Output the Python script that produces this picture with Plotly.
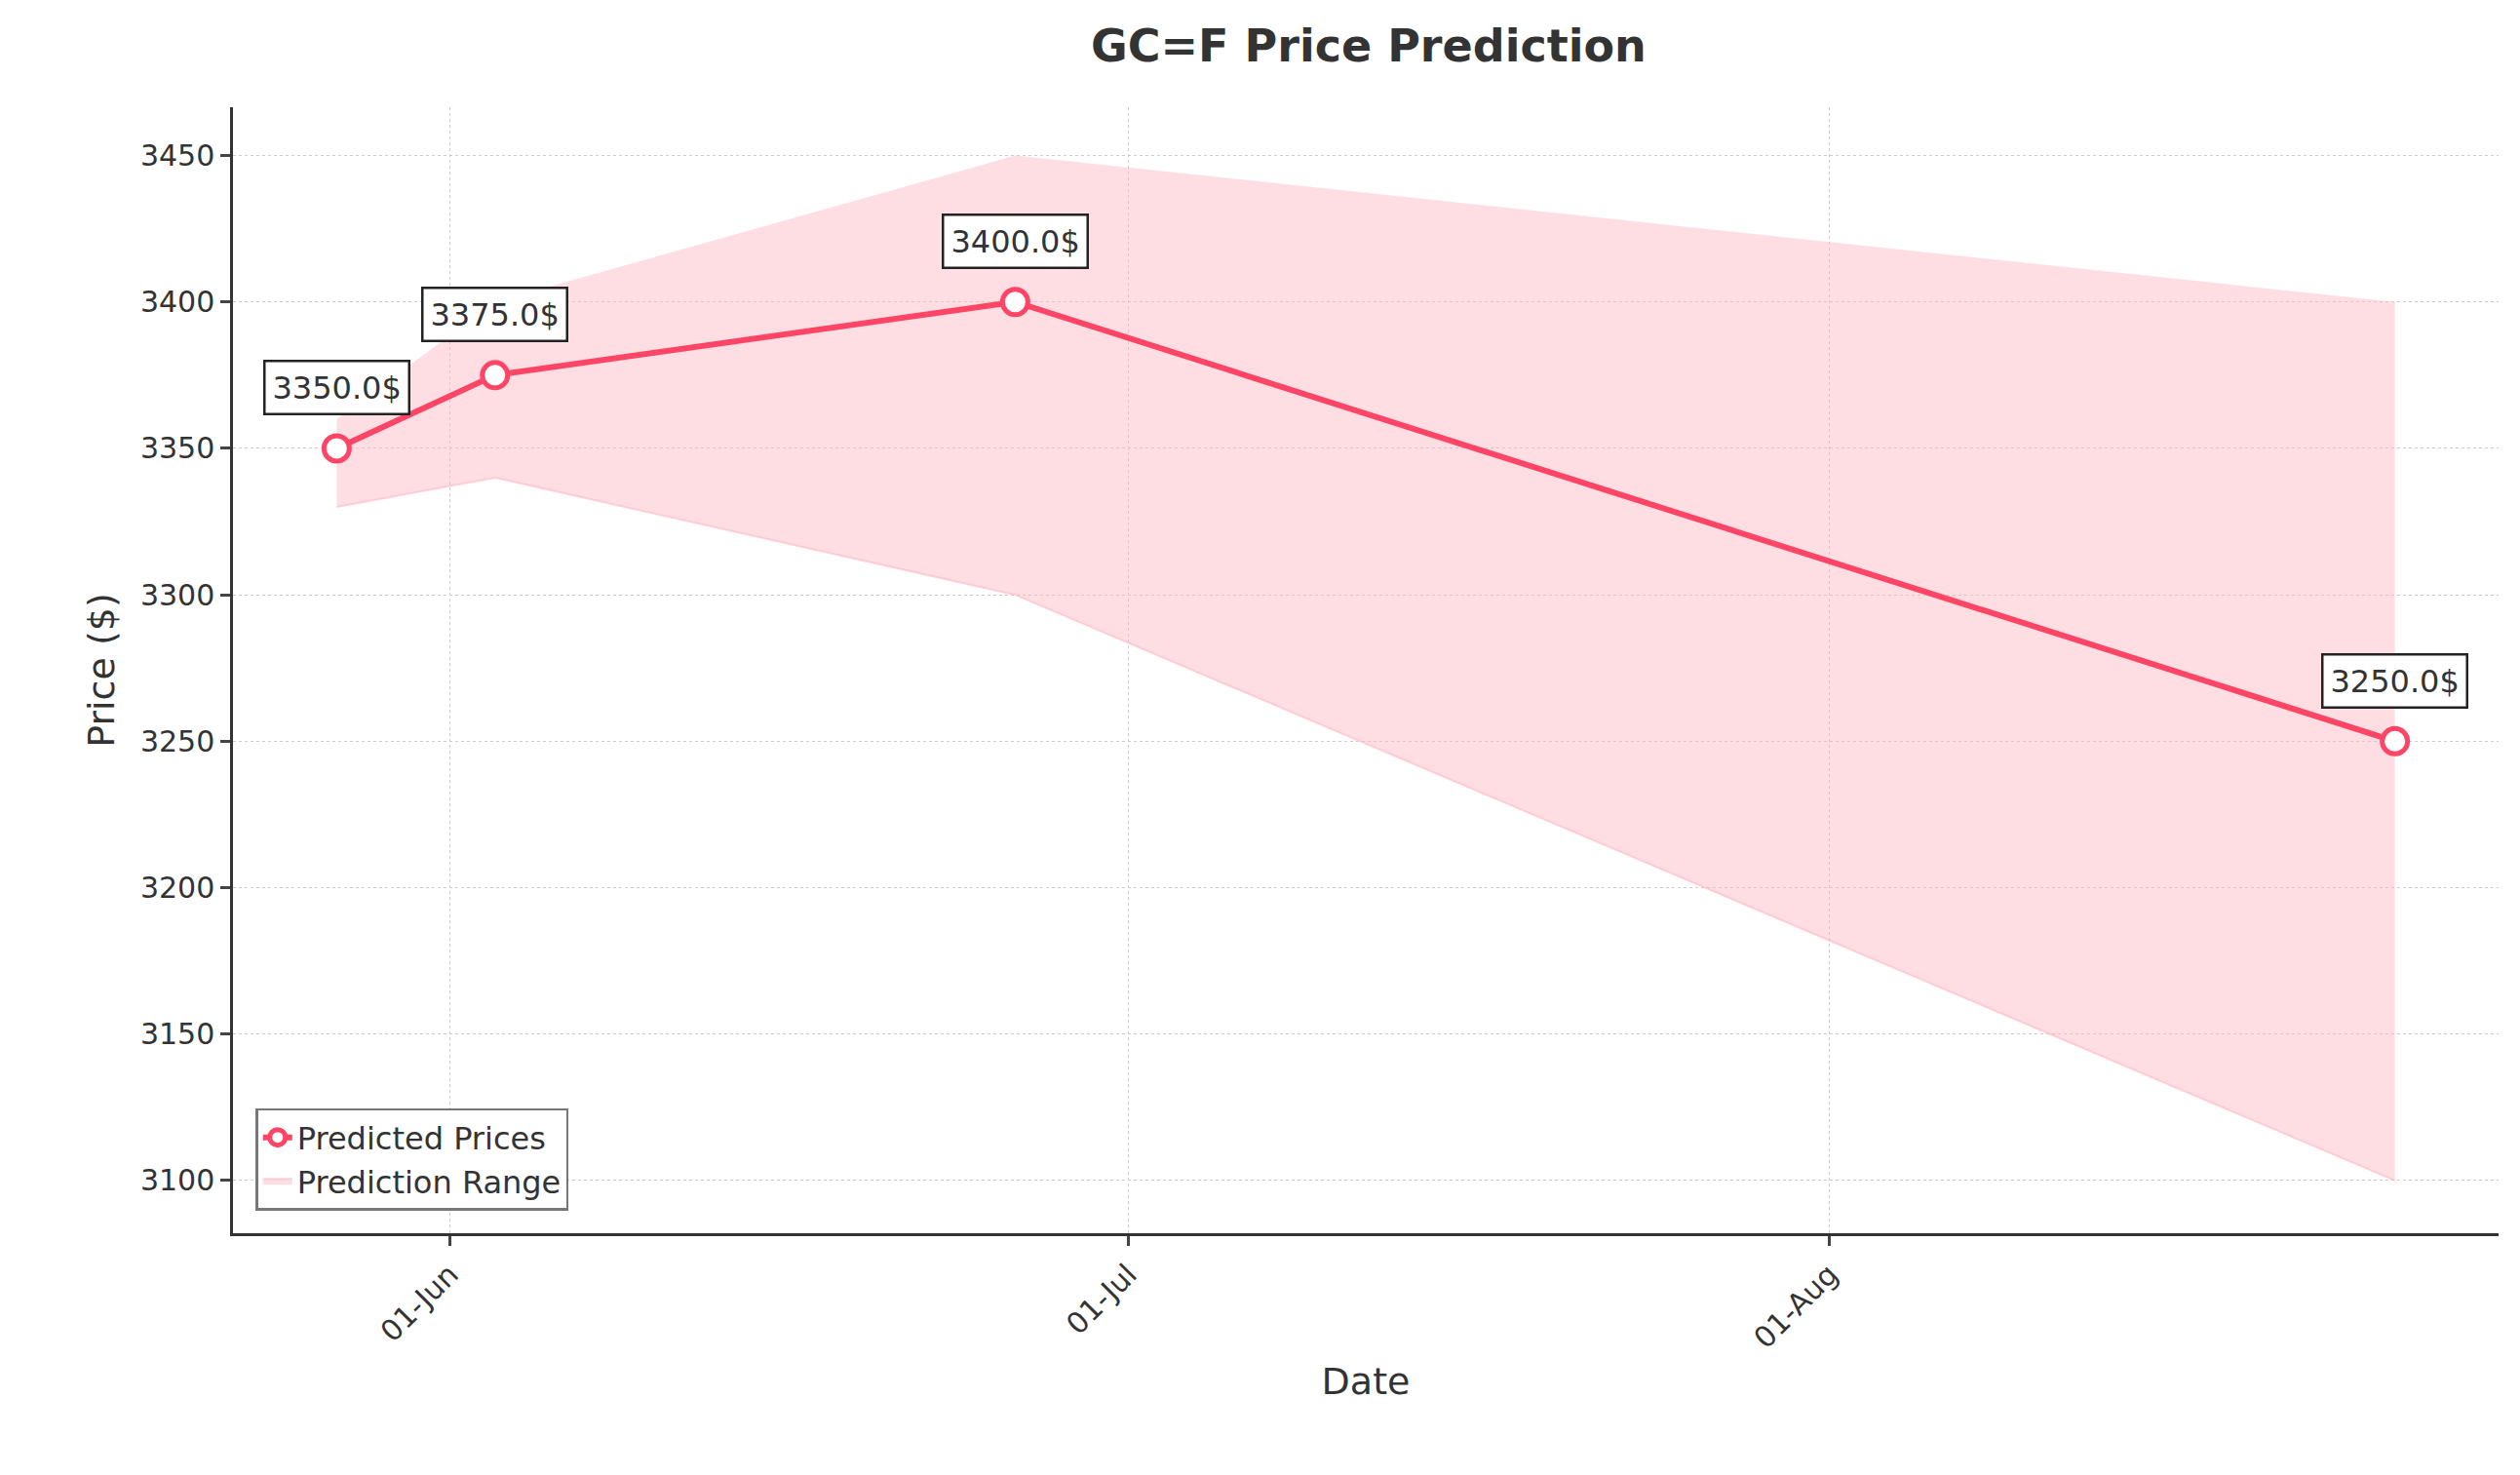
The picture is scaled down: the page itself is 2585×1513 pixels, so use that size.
import plotly.graph_objects as go

dates = ["2025-05-27", "2025-06-03", "2025-06-26", "2025-08-26"]
prices = [3350.0, 3375.0, 3400.0, 3250.0]
upper = [3360, 3400, 3450, 3400]
lower = [3330, 3340, 3300, 3100]
tick_vals = ["2025-06-01", "2025-07-01", "2025-08-01"]
tick_text = ["01-Jun", "01-Jul", "01-Aug"]

red = "#FF4566"
fig = go.Figure()
fig.add_trace(go.Scatter(x=dates, y=upper, mode="lines", line=dict(width=0), showlegend=False, hoverinfo="skip"))
fig.add_trace(go.Scatter(x=dates, y=lower, mode="lines", fill="tonexty", fillcolor="rgba(255,182,193,0.45)",
                         line=dict(width=2, color="rgba(255,182,193,0.6)"), name="Prediction Range"))
fig.add_trace(go.Scatter(x=dates, y=prices, mode="lines+markers", name="Predicted Prices",
                         line=dict(color=red, width=6),
                         marker=dict(size=26, color="white", line=dict(color=red, width=5))))
for d, p in zip(dates, prices):
    fig.add_annotation(x=d, y=p, text=f"{p}$", showarrow=False, yshift=62,
                       font=dict(size=32, color="#333"), bgcolor="white",
                       bordercolor="#222", borderwidth=2.5, borderpad=7)

fig.update_layout(
    width=2585, height=1513, plot_bgcolor="white", paper_bgcolor="white",
    margin=dict(l=231, r=30, t=102, b=256),
    font=dict(family="DejaVu Sans", color="#333"),
    title=dict(text="<b>GC=F Price Prediction</b>", x=0.54, xanchor="center", y=0.985, yanchor="top",
               font=dict(size=46)),
    legend=dict(x=0.01, y=0.02, xanchor="left", yanchor="bottom", bordercolor="#777", borderwidth=2.5,
                bgcolor="white", font=dict(size=32), traceorder="reversed"),
    xaxis=dict(range=["2025-05-22 10:00", "2025-08-30 14:00"], tickvals=tick_vals, ticktext=tick_text,
               tickangle=-45, tickfont=dict(size=30), showline=True, linecolor="#333", linewidth=2.5,
               ticks="outside", ticklen=10, tickwidth=2.5, gridcolor="#ccc", griddash="dot", zeroline=False,
               title=dict(text="Date", font=dict(size=38))),
    yaxis=dict(range=[3082, 3466.5], tickvals=[3100, 3150, 3200, 3250, 3300, 3350, 3400, 3450],
               tickfont=dict(size=30), showline=True, linecolor="#333", linewidth=2.5,
               ticks="outside", ticklen=10, tickwidth=2.5, gridcolor="#ccc", griddash="dot", zeroline=False,
               title=dict(text="Price ($)", font=dict(size=38))),
)
fig.write_html("out.html")
